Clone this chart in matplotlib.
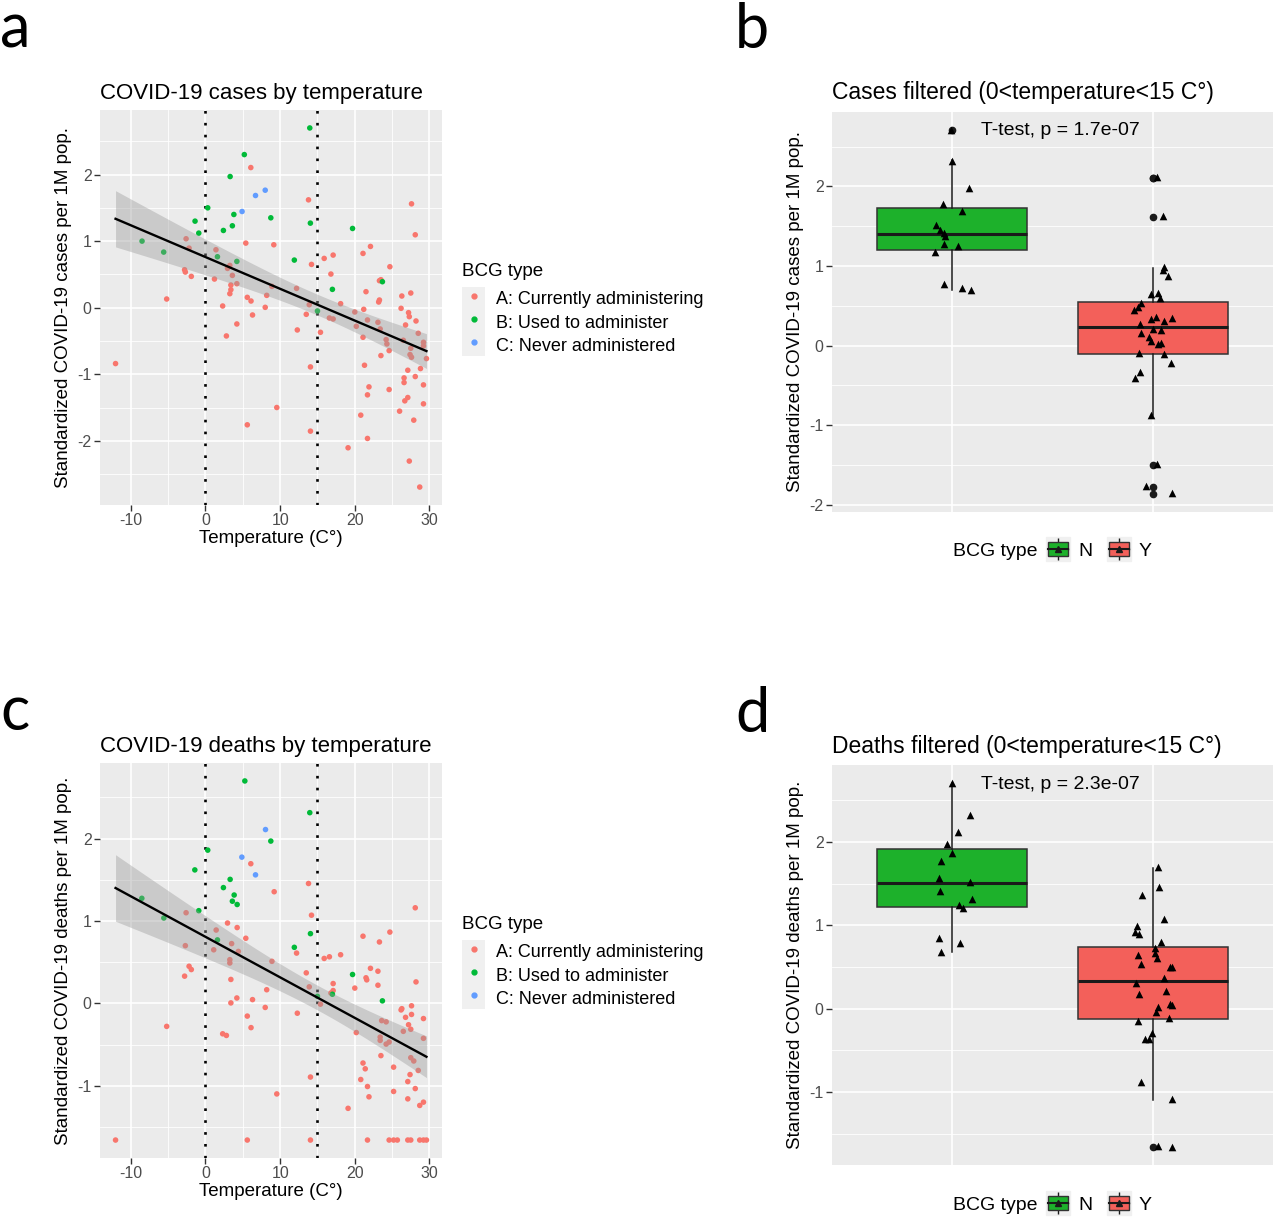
import numpy as np
import matplotlib
matplotlib.use("Agg")
import matplotlib.pyplot as plt
from matplotlib.patches import Patch
from matplotlib.lines import Line2D
from matplotlib.legend_handler import HandlerTuple

plt.rcParams['font.family'] = ['Liberation Sans', 'DejaVu Sans']
plt.rcParams['axes.unicode_minus'] = False

# ── Data: panel a (cases vs temperature) ─────────────────────────────────────
a_temp_A = [6.07, 13.8, 27.6, 28.1, 5.4, 9.15, -2.6, -2.2, 22.1, 21.1, 17.1, 15.9, 1.4, 14.2,
            24.7, 3.26, 2.95, 16.8, -2.8, -2.7, -1.9, 1.2, 3.6, 4.2, 3.4, 3.4, 3.26, 8.9, 12.2,
            23.5, 23.3, 21.5, 26.3, 27.5, 23.3, 23.2, 18.1, 13.9, 5.6, 6.1, 8.2, -5.2, 2.3, 8.0,
            26.2, 21.2, 20.0, 27.2, 27.3, 6.3, 13.5, 16.6, 17.1, 21.7, 28.2, 20.2, 23.1, 23.4,
            26.8, 12.3, 15.4, 28.5, 4.2, 2.8, 21.1, 24.2, 24.3, 26.5, 29.2, 29.2, 27.5, 24.6,
            23.5, 27.4, 27.6, 29.6, -12.05, 21.3, 14.06, 27.1, 28.8, 28.1, 26.6, 26.6, 29.2,
            21.9, 24.6, 21.7, 27.1, 26.7, 29.2, 9.55, 26.0, 20.8, 27.9, 5.6, 14.06, 21.7, 19.1,
            27.3, 28.7]
a_val_A = [2.105, 1.62, 1.56, 1.095, 0.97, 0.945, 1.035, 0.895, 0.92, 0.815, 0.79, 0.74, 0.87,
           0.65, 0.615, 0.635, 0.59, 0.505, 0.57, 0.535, 0.47, 0.43, 0.485, 0.36, 0.34, 0.27,
           0.21, 0.32, 0.29, 0.42, 0.405, 0.24, 0.175, 0.22, 0.115, 0.085, 0.06, 0.045, 0.155,
           0.10, 0.185, 0.13, 0.025, 0.005, -0.01, -0.025, -0.065, -0.075, -0.135, -0.11, -0.10,
           -0.155, -0.17, -0.185, -0.20, -0.28, -0.22, -0.32, -0.26, -0.335, -0.37, -0.385,
           -0.245, -0.425, -0.445, -0.48, -0.545, -0.49, -0.52, -0.575, -0.61, -0.645, -0.72,
           -0.705, -0.745, -0.765, -0.84, -0.865, -0.89, -0.94, -0.915, -1.035, -1.055, -1.125,
           -1.16, -1.19, -1.23, -1.31, -1.35, -1.40, -1.445, -1.50, -1.555, -1.615, -1.69,
           -1.76, -1.855, -1.965, -2.105, -2.305, -2.695]
a_temp_B = [13.97, 5.2, 3.3, 0.3, -1.4, -0.9, 3.8, 3.6, 2.4, 8.75, 14.05, 19.7, -8.5, -5.6,
            1.6, 4.2, 11.9, 17.0, 23.7, 15.0]
a_val_B = [2.70, 2.30, 1.97, 1.50, 1.30, 1.12, 1.40, 1.23, 1.16, 1.35, 1.27, 1.19, 1.00, 0.835,
           0.765, 0.695, 0.715, 0.275, 0.39, -0.05]
a_temp_C = [8.0, 6.7, 4.9]
a_val_C = [1.765, 1.685, 1.445]

# ── Data: panel c (deaths vs temperature) ────────────────────────────────────
c_temp_A = [6.07, 13.8, 9.2, 28.1, 14.2, -2.6, 2.95, 4.24, 21.1, 24.7, 23.3, 1.43, 5.4, 3.5,
            -2.7, 1.1, 4.4, 12.2, 18.1, 15.9, 16.6, 3.26, 3.26, 8.9, -2.2, -1.9, 22.1, 23.1,
            -2.8, 13.5, 21.5, 21.6, 28.2, 3.4, 17.1, 23.1, 13.9, 20.0, 8.2, 17.1, 16.8, 4.2,
            6.3, 3.4, 15.4, 27.6, 26.3, 26.2, 8.0, 27.6, 29.2, 26.8, 5.6, 12.3, 27.2, 27.5,
            23.6, 24.2, -5.2, 6.1, 26.5, 20.2, 2.3, 2.8, 29.2, 23.4, 23.4, 24.6, 24.2, 23.5,
            27.5, 27.9, 21.1, 21.4, 28.5, 27.4, 25.2, 14.06, 20.8, 27.1, 21.7, 28.1, 25.2, 9.55,
            21.9, 27.1, 29.2, 28.7, 19.1,
            -12.05, 5.6, 14.06, 21.7, 24.6, 25.2, 25.7, 27.1, 27.5, 28.7, 29.2, 29.6]
c_val_A = [1.695, 1.455, 1.355, 1.16, 1.07, 1.10, 0.975, 0.92, 0.815, 0.865, 0.745, 0.89, 0.79,
           0.725, 0.70, 0.65, 0.63, 0.61, 0.59, 0.545, 0.565, 0.53, 0.49, 0.51, 0.45, 0.41,
           0.425, 0.39, 0.33, 0.37, 0.31, 0.285, 0.26, 0.29, 0.24, 0.22, 0.20, 0.185, 0.165,
           0.155, 0.125, 0.065, 0.045, 0.005, -0.01, -0.03, -0.065, -0.08, -0.05, -0.135,
           -0.185, -0.17, -0.155, -0.12, -0.26, -0.315, -0.21, -0.225, -0.28, -0.295, -0.34,
           -0.355, -0.37, -0.39, -0.425, -0.41, -0.45, -0.47, -0.495, -0.635, -0.66, -0.70,
           -0.725, -0.795, -0.815, -0.865, -0.775, -0.895, -0.925, -0.95, -1.01, -1.035, -1.07,
           -1.10, -1.135, -1.16, -1.20, -1.24, -1.275,
           -1.66, -1.66, -1.66, -1.66, -1.66, -1.66, -1.66, -1.66, -1.66, -1.66, -1.66, -1.66]
c_temp_B = [5.27, 13.97, 8.75, 0.3, -1.43, 3.3, 2.4, 3.84, 3.6, 4.24, -0.9, -8.53, -5.58,
            14.06, 1.6, 11.9, 19.7, 17.0, 23.7, 15.0]
c_val_B = [2.70, 2.315, 1.97, 1.86, 1.62, 1.505, 1.405, 1.315, 1.24, 1.20, 1.125, 1.275, 1.036,
           0.846, 0.77, 0.68, 0.35, 0.11, 0.03, 0.085]
c_temp_C = [8.04, 4.87, 6.7]
c_val_C = [2.11, 1.775, 1.56]

# ── Data: panel b (cases, 0<T<15, by BCG) ────────────────────────────────────
b_box_q1 = [1.20, -0.104]
b_box_med = [1.40, 0.234]
b_box_q3 = [1.73, 0.543]
b_box_lo = [0.70, -0.873]
b_box_hi = [2.33, 0.973]
b_out_N = [2.705]
b_out_Y = [2.11, 2.11, 1.62, -1.50, -1.77, -1.86]
b_N_dx = [-0.005, 0.0, 0.085, -0.046, 0.05, -0.081, -0.061, -0.04, -0.035, -0.04, 0.03,
          -0.088, -0.04, 0.051, 0.091]
b_N_val = [2.705, 2.32, 1.975, 1.78, 1.695, 1.51, 1.453, 1.41, 1.374, 1.28, 1.25, 1.17, 0.78,
           0.73, 0.70]
b_Y_dx = [0.023, 0.05, 0.056, 0.053, 0.078, -0.008, 0.025, 0.036, -0.06, -0.071, -0.091,
          0.017, -0.008, 0.096, 0.055, -0.063, 0.0, 0.04, -0.058, -0.018, -0.008, 0.04, 0.027,
          -0.068, 0.055, 0.09, -0.065, -0.087, -0.008, 0.023, -0.035, 0.095]
b_Y_val = [2.117, 1.628, 0.985, 0.956, 0.88, 0.65, 0.66, 0.60, 0.53, 0.485, 0.443, 0.36, 0.33,
           0.343, 0.31, 0.27, 0.21, 0.196, 0.163, 0.11, 0.063, 0.03, 0.017, -0.088, -0.10,
           -0.22, -0.326, -0.41, -0.873, -1.49, -1.762, -1.846]
b_label = "T-test, p = 1.7e-07"

# ── Data: panel d (deaths, 0<T<15, by BCG) ───────────────────────────────────
d_box_q1 = [1.216, -0.124]
d_box_med = [1.504, 0.336]
d_box_q3 = [1.916, 0.736]
d_box_lo = [0.676, -1.096]
d_box_hi = [2.704, 1.684]
d_out_N = []
d_out_Y = [-1.656]
d_N_dx = [-0.003, 0.088, 0.028, -0.025, -0.003, -0.058, -0.068, 0.09, -0.061, 0.098, 0.033,
          0.053, -0.066, 0.04, -0.055]
d_N_val = [2.704, 2.324, 2.116, 1.976, 1.868, 1.776, 1.564, 1.516, 1.408, 1.32, 1.24, 1.204,
           0.848, 0.784, 0.68]
d_Y_dx = [0.025, 0.03, -0.056, 0.056, -0.08, -0.09, -0.066, 0.04, 0.012, 0.012, -0.075, 0.02,
          -0.058, 0.086, 0.094, 0.058, -0.083, 0.065, -0.066, 0.085, 0.094, 0.025, 0.015,
          0.081, -0.071, -0.002, -0.038, -0.017, -0.06, 0.094, 0.027, 0.098]
d_Y_val = [1.70, 1.464, 1.36, 1.072, 0.988, 0.92, 0.90, 0.796, 0.724, 0.664, 0.648, 0.608,
           0.536, 0.504, 0.496, 0.364, 0.304, 0.212, 0.172, 0.06, 0.044, 0.024, -0.036, -0.108,
           -0.148, -0.288, -0.368, -0.368, -0.88, -1.088, -1.644, -1.656]
d_label = "T-test, p = 2.3e-07"

GROUP_LABELS = ["A: Currently administering", "B: Used to administer", "C: Never administered"]
HUE = ["#F8766D", "#00BA38", "#619CFF"]
BOX_FILL = ["#1DB12B", "#F3605A"]
PANEL_BG = "#EBEBEB"
TICK_COL = "#4D4D4D"
KEY_BG = "#F0F0F0"
W, H = 1280, 1225


# ── Helpers ──────────────────────────────────────────────────────────────────
def expand(vals, frac=0.05):
    lo, hi = min(vals), max(vals)
    pad = (hi - lo) * frac
    return lo - pad, hi + pad


def style_axes(ax):
    ax.set_facecolor(PANEL_BG)
    for s in ax.spines.values():
        s.set_visible(False)
    ax.grid(True, which="major", color="white", lw=1.2)
    ax.grid(True, which="minor", color="white", lw=0.6)
    ax.set_axisbelow(True)
    ax.tick_params(which="major", direction="out", length=4, width=1, color="#333333",
                   labelcolor=TICK_COL, labelsize=11.5, pad=2)
    ax.tick_params(which="minor", length=0)


def scatter_panel(ax, temps, vals, title, ylabel):
    style_axes(ax)
    for t, v, col in zip(temps, vals, HUE):
        ax.scatter(t, v, s=16, color=col, edgecolors="none", zorder=3)

    # linear fit with 95% confidence band (like geom_smooth(method="lm"))
    x = np.concatenate([np.asarray(t) for t in temps])
    y = np.concatenate([np.asarray(v) for v in vals])
    slope, icpt = np.polyfit(x, y, 1)
    n = len(x)
    resid = y - (icpt + slope * x)
    s_err = np.sqrt(np.sum(resid ** 2) / (n - 2))
    xs = np.linspace(x.min(), x.max(), 100)
    se = s_err * np.sqrt(1 / n + (xs - x.mean()) ** 2 / np.sum((x - x.mean()) ** 2))
    fit = icpt + slope * xs
    ax.fill_between(xs, fit - 1.98 * se, fit + 1.98 * se, color="#999999", alpha=0.4,
                    lw=0, zorder=4)
    ax.plot(xs, fit, color="black", lw=1.7, zorder=5)

    for xv in (0, 15):
        ax.axvline(xv, color="black", lw=1.9, linestyle=(0, (1, 3.5)), zorder=2)

    ax.set_xticks([-10, 0, 10, 20, 30])
    ax.set_xticks([-5, 5, 15, 25], minor=True)
    ax.set_yticks([-2, -1, 0, 1, 2])
    ax.set_yticks([-2.5, -1.5, -0.5, 0.5, 1.5, 2.5], minor=True)
    ax.set_xlim(*expand(x))
    ax.set_ylim(*expand(y))
    ax.set_title(title, loc="left", fontsize=16, pad=8)
    ax.set_xlabel("Temperature (C°)", fontsize=13.5, labelpad=1)
    ax.set_ylabel(ylabel, fontsize=13.5, labelpad=4)

    handles = [(Patch(facecolor=KEY_BG, edgecolor="none"),
                Line2D([], [], marker="o", ls="", color=c, markersize=3.5)) for c in HUE]
    leg = ax.legend(handles, GROUP_LABELS, title="BCG type", loc="upper left",
                    bbox_to_anchor=(1.058, 0.613), frameon=False, fontsize=13,
                    title_fontsize=13.5, handler_map={tuple: HandlerTuple(ndivide=1, pad=0)},
                    handlelength=1.3, handleheight=1.6, labelspacing=0, handletextpad=0.6,
                    borderaxespad=0, borderpad=0)
    leg._legend_box.align = "left"
    leg._legend_box.sep = 5


def box_panel(ax, q1, med, q3, lo, hi, out_N, out_Y, N_dx, N_val, Y_dx, Y_val, label,
              title, ylabel, leg_y):
    style_axes(ax)
    stats = []
    for i, fl in enumerate([out_N, out_Y]):
        stats.append(dict(q1=q1[i], med=med[i], q3=q3[i], whislo=lo[i], whishi=hi[i],
                          fliers=fl))
    bp = ax.bxp(stats, positions=[1, 2], widths=0.75, showcaps=False, patch_artist=True,
                boxprops=dict(edgecolor="#333333", lw=1.1),
                medianprops=dict(color="#1A1A1A", lw=2.2),
                whiskerprops=dict(color="#1A1A1A", lw=1.1),
                flierprops=dict(marker="o", markerfacecolor="#1A1A1A",
                                markeredgecolor="#1A1A1A", markersize=4.5),
                zorder=3)
    for patch, col in zip(bp["boxes"], BOX_FILL):
        patch.set_facecolor(col)

    ax.scatter(1 + np.asarray(N_dx), N_val, marker="^", s=30, color="black", lw=0, zorder=4)
    ax.scatter(2 + np.asarray(Y_dx), Y_val, marker="^", s=30, color="black", lw=0, zorder=4)

    ax.set_xticks([1, 2])
    ax.tick_params(axis="x", length=0, labelbottom=False)
    ax.set_yticks([-2, -1, 0, 1, 2])
    ax.set_yticks([-1.5, -0.5, 0.5, 1.5, 2.5], minor=True)
    ax.set_xlim(0.4, 2.6)
    ylo, yhi = expand(list(N_val) + list(Y_val) + list(out_N) + list(out_Y) + list(lo) + list(hi))
    ax.set_ylim(ylo, yhi)
    ax.text(1.54, yhi - 0.235, label, ha="center", va="center", fontsize=14)
    ax.set_title(title, loc="left", fontsize=16.5, pad=9)
    ax.set_ylabel(ylabel, fontsize=13.5, labelpad=4)

    handles = [(Line2D([], [], marker="s", ls="", markersize=17, color=KEY_BG),
                Line2D([], [], color="#1A1A1A", lw=1, marker="|", markersize=16),
                Patch(facecolor=c, edgecolor="#333333", lw=1),
                Line2D([], [], color="#1A1A1A", lw=1.5, marker="^", markersize=5))
               for c in BOX_FILL]
    fig.legend(handles, ["N", "Y"], loc="center left",
               bbox_to_anchor=(1048 / W, 1 - leg_y / H), ncol=2, frameon=False,
               fontsize=14, columnspacing=0.85, handletextpad=0.5, handlelength=1.05,
               handleheight=0.75, borderpad=0, borderaxespad=0,
               handler_map={tuple: HandlerTuple(ndivide=1, pad=0)})
    fig.text(995 / W, 1 - leg_y / H, "BCG type", ha="center", va="center", fontsize=14)


# ── Figure ───────────────────────────────────────────────────────────────────
fig = plt.figure(figsize=(12.8, 12.25), dpi=100)


def add_ax(x0, y0, x1, y1):
    return fig.add_axes([x0 / W, 1 - y1 / H, (x1 - x0) / W, (y1 - y0) / H])


ax_a = add_ax(100, 110, 442, 505)
ax_b = add_ax(832, 112, 1273, 512)
ax_c = add_ax(100, 763, 442, 1158)
ax_d = add_ax(832, 765, 1273, 1165)

scatter_panel(ax_a, [a_temp_A, a_temp_B, a_temp_C], [a_val_A, a_val_B, a_val_C],
              "COVID-19 cases by temperature", "Standardized COVID-19 cases per 1M pop.")
scatter_panel(ax_c, [c_temp_A, c_temp_B, c_temp_C], [c_val_A, c_val_B, c_val_C],
              "COVID-19 deaths by temperature", "Standardized COVID-19 deaths per 1M pop.")
box_panel(ax_b, b_box_q1, b_box_med, b_box_q3, b_box_lo, b_box_hi, b_out_N, b_out_Y,
          b_N_dx, b_N_val, b_Y_dx, b_Y_val, b_label,
          "Cases filtered (0<temperature<15 C°)", "Standardized COVID-19 cases per 1M pop.",
          551)
box_panel(ax_d, d_box_q1, d_box_med, d_box_q3, d_box_lo, d_box_hi, d_out_N, d_out_Y,
          d_N_dx, d_N_val, d_Y_dx, d_Y_val, d_label,
          "Deaths filtered (0<temperature<15 C°)", "Standardized COVID-19 deaths per 1M pop.",
          1205)

for letter, x, y in [("a", 0, 48), ("b", 735, 48), ("c", 0, 730), ("d", 735, 732)]:
    fig.text(x / W, 1 - y / H, letter, fontsize=44, family="Lato", va="baseline")

fig.savefig("out.png", dpi=100, facecolor="white")
